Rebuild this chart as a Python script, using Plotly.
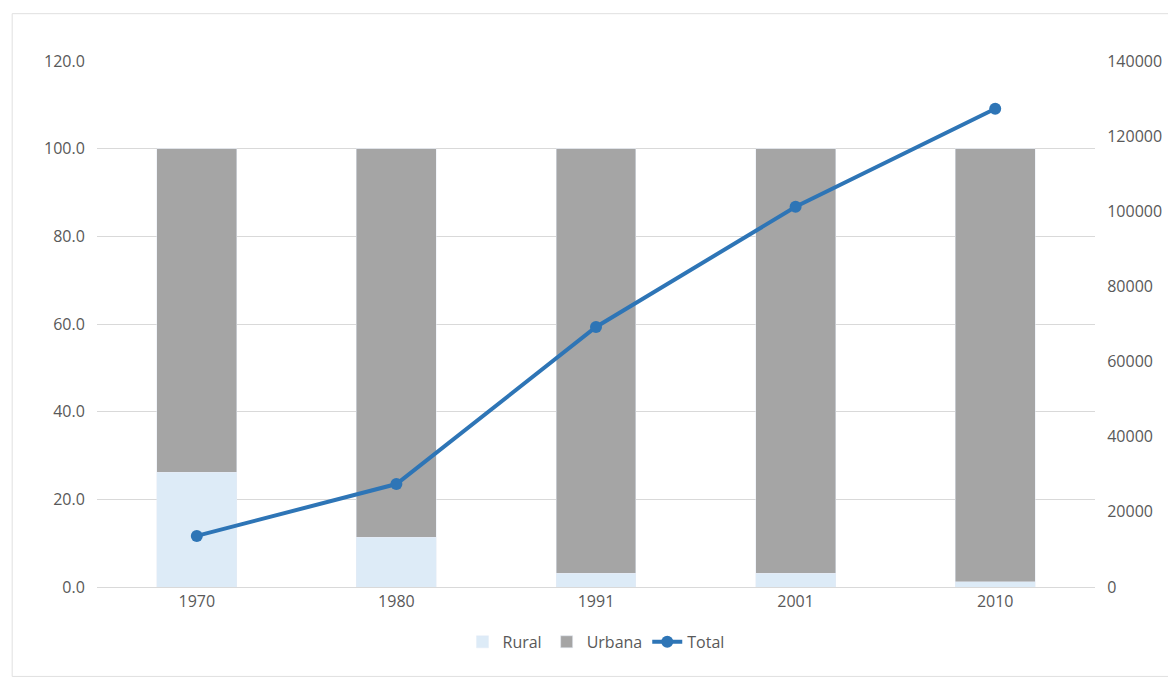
import plotly.graph_objects as go

years = ["1970", "1980", "1991", "2001", "2010"]
rural = [26.2, 11.4, 3.1, 3.1, 1.2]
urbana = [73.8, 88.6, 96.9, 96.9, 98.8]
total = [13600, 27400, 69200, 101200, 127300]

fig = go.Figure()
fig.add_bar(x=years, y=rural, name="Rural", marker_color="#DDEBF7", width=0.4)
fig.add_bar(x=years, y=urbana, name="Urbana", marker_color="#A5A5A5", width=0.4)
fig.add_scatter(x=years, y=total, name="Total", yaxis="y2", mode="lines+markers",
                line=dict(color="#2E75B6", width=4), marker=dict(size=12, color="#2E75B6"))

fnt = dict(family="Open Sans, Liberation Sans", size=16, color="#595959")
fig.update_layout(
    barmode="stack", width=1176, height=677, plot_bgcolor="white", paper_bgcolor="white",
    margin=dict(l=89, r=89, t=53, b=98), font=fnt,
    xaxis=dict(showgrid=False, showline=True, linecolor="#D9D9D9", ticks=""),
    yaxis=dict(range=[0, 120], dtick=20, tickformat=".1f", gridcolor="#D9D9D9",
               zeroline=False, ticks="outside", tickcolor="white", ticklen=8),
    yaxis2=dict(range=[0, 140000], dtick=20000, overlaying="y", side="right",
                showgrid=False, zeroline=False, tickformat="d", ticks="outside", tickcolor="white", ticklen=8),
    legend=dict(orientation="h", x=0.5, xanchor="center", y=-0.072, yanchor="top", font=fnt,
                traceorder="normal"),
    shapes=[dict(type="rect", xref="paper", yref="paper", x0=-0.085, x1=1.2, y0=-0.17, y1=1.09,
                 line=dict(color="#E0E0E0", width=1))],
)
fig.write_html("out.html")
